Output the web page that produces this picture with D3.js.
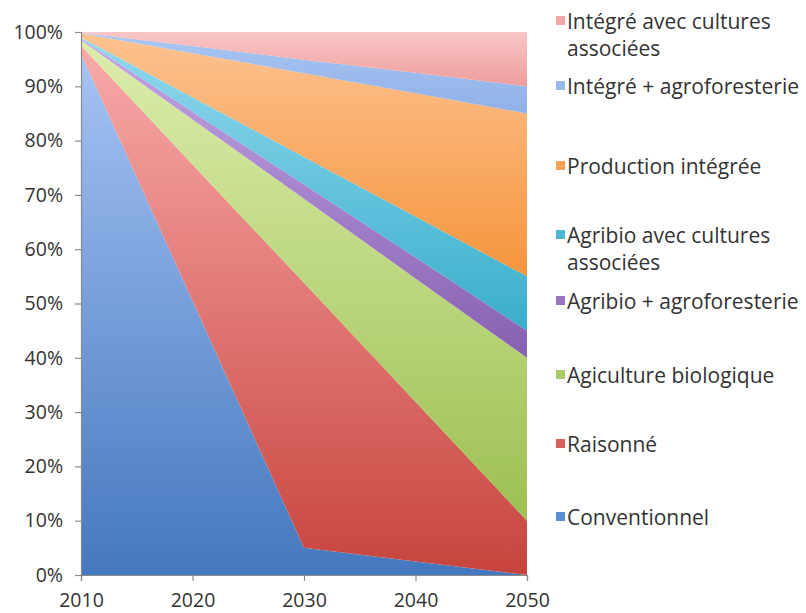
<!DOCTYPE html>
<html><head><meta charset="utf-8">
<script src="https://cdn.jsdelivr.net/npm/d3@7/dist/d3.min.js"></script>
<style>body{margin:0;background:#fff}svg{display:block}text{font-family:"Open Sans",Lato,sans-serif;fill:#333}</style>
</head><body><svg id="c" width="806" height="613"></svg>
<script>
const years = [2010, 2020, 2030, 2040, 2050];
const seriesNames = ["Conventionnel","Raisonné","Agiculture biologique","Agribio + agroforesterie","Agribio avec cultures associées","Production intégrée","Intégré + agroforesterie","Intégré avec cultures associées"];
const conventionnel = [96, 50.5, 5, 2.5, 0];
const raisonne = [1.5, 25.1, 48.8, 29.4, 10];
const agriBio = [1, 8.3, 15.5, 22.7, 30];
const agribioAgrofor = [0.25, 1.4, 2.6, 3.9, 5];
const agribioCultures = [0.25, 2.7, 5.1, 7.5, 10];
const prodIntegree = [0.75, 8.1, 15.4, 22.7, 30];
const integreAgrofor = [0.1, 1.3, 2.5, 3.8, 5];
const integreCultures = [0.15, 2.6, 5.1, 7.5, 10];
const yTicks = [0,10,20,30,40,50,60,70,80,90,100];
const legendLines = [["Conventionnel"],["Raisonné"],["Agiculture biologique"],["Agribio + agroforesterie"],["Agribio avec cultures","associées"],["Production intégrée"],["Intégré + agroforesterie"],["Intégré avec cultures","associées"]];

const allValues = [conventionnel, raisonne, agriBio, agribioAgrofor, agribioCultures, prodIntegree, integreAgrofor, integreCultures];
const gradTop = ["#a6c3f4","#f8aaa9","#dcedac","#c3a5e6","#92d9ee","#fdc290","#aac6f2","#f9c6c6"];
const gradBot = ["#4478be","#c8443e","#9cc052","#8660b2","#38aecb","#f5953c","#8fb0e8","#ee9c9c"];
const legendColor = ["#5a8ed3","#d9615d","#a9cb68","#9575c2","#4ab7d3","#f7a056","#9ab9ec","#f2a8a8"];

const data = years.map((y,i)=>{const o={year:y}; seriesNames.forEach((n,k)=>o[n]=allValues[k][i]); return o;});
const svg = d3.select("#c");
const L=81, R=527, T=32, B=575;
const x = d3.scaleLinear().domain([2010,2050]).range([L,R]);
const y = d3.scaleLinear().domain([0,100]).range([B,T]);
const stack = d3.stack().keys(seriesNames)(data);
const defs = svg.append("defs");
seriesNames.forEach((n,k)=>{
  const g = defs.append("linearGradient").attr("id","g"+k).attr("x1",0).attr("y1",0).attr("x2",0).attr("y2",1);
  g.append("stop").attr("offset",0).attr("stop-color",gradTop[k]);
  g.append("stop").attr("offset",1).attr("stop-color",gradBot[k]);
});
const area = d3.area().x(d=>x(d.data.year)).y0(d=>y(d[0])).y1(d=>y(Math.min(100,d[1])));
svg.append("g").selectAll("path").data(stack).join("path")
  .attr("d",area).attr("fill",(d,i)=>`url(#g${i})`);

// axes
const yAxis = d3.axisLeft(y).tickValues(yTicks).tickFormat(d=>d+"%").tickSize(6).tickPadding(12);
const gy = svg.append("g").attr("transform",`translate(${L},0)`).call(yAxis);
const xAxis = d3.axisBottom(x).tickValues(years).tickFormat(d3.format("d")).tickSize(6).tickPadding(12);
const gx = svg.append("g").attr("transform",`translate(0,${B})`).call(xAxis);
[gy,gx].forEach(g=>{
  g.select(".domain").attr("stroke","#8a8a8a").attr("stroke-width",1.2);
  g.selectAll(".tick line").attr("stroke","#8a8a8a").attr("stroke-width",1.2);
  g.selectAll("text").attr("font-size",19.5).attr("fill","#333").style("font-family","'Open Sans', Lato, sans-serif");
});

// legend (top to bottom, reverse of series order)
const legendY = [21, 86, 166, 235, 301, 375, 444, 517];
const order = d3.range(seriesNames.length).reverse();
const lg = svg.append("g");
order.forEach((k,j)=>{
  const yy = legendY[j];
  lg.append("rect").attr("x",556).attr("y",yy-5).attr("width",9).attr("height",9).attr("fill",legendColor[k]);
  legendLines[k].forEach((t,li)=>{
    lg.append("text").attr("x",567).attr("y",yy+li*27).attr("dominant-baseline","central")
      .attr("font-size",21).text(t);
  });
});
</script></body></html>
